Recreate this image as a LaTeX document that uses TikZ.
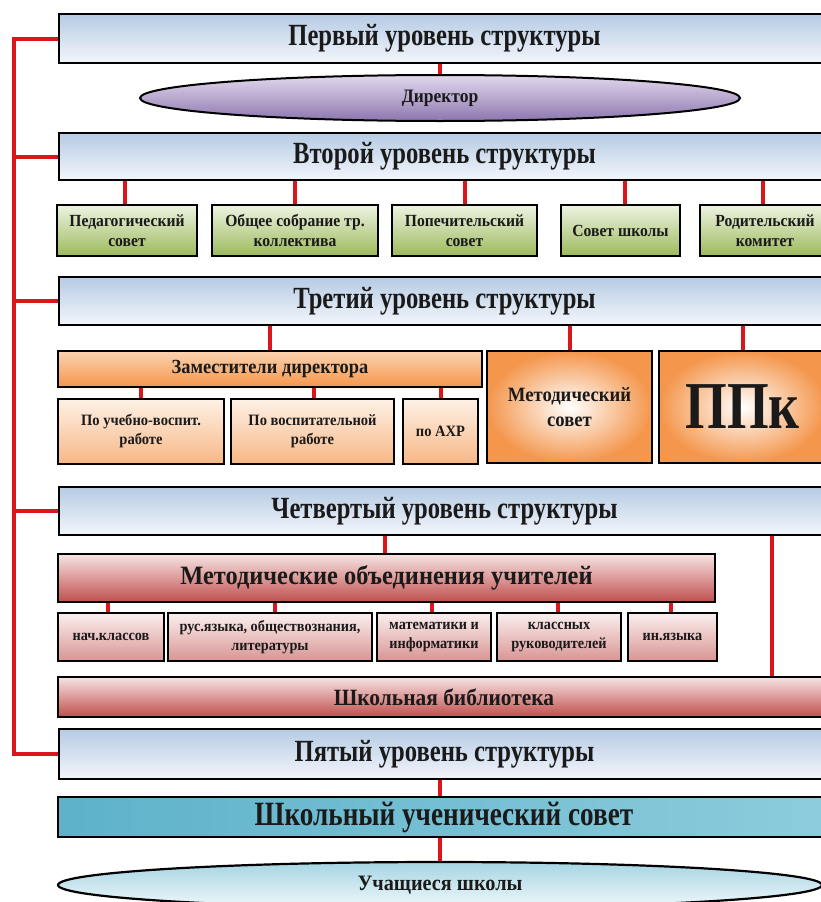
\documentclass[tikz,border=0pt]{standalone}
\usepackage{fontspec}
\setmainfont{Liberation Serif}[FakeStretch=0.8]
\newfontfamily\widerf{Liberation Serif}[FakeStretch=0.92]
\usetikzlibrary{shapes.geometric}
\definecolor{lvltop}{HTML}{B6CBE4}
\definecolor{lvlbot}{HTML}{F3F6FB}
\definecolor{dirtop}{HTML}{E2D9EE}
\definecolor{dirbot}{HTML}{8C76AE}
\definecolor{grtop}{HTML}{EEF3E2}
\definecolor{grbot}{HTML}{9CBA5C}
\definecolor{ortop}{HTML}{FBD3B0}
\definecolor{orbot}{HTML}{F4964C}
\definecolor{orlt}{HTML}{FEF1E6}
\definecolor{orlb}{HTML}{F7B785}
\definecolor{rdtop}{HTML}{F7E4E4}
\definecolor{rdbot}{HTML}{BF4F4C}
\definecolor{rdlt}{HTML}{FBEFEF}
\definecolor{rdlb}{HTML}{D89593}
\definecolor{tealL}{HTML}{5DB2CA}
\definecolor{tealR}{HTML}{8DCCDC}
\definecolor{sttop}{HTML}{A6D5E3}
\definecolor{stbot}{HTML}{F0F8FB}
\definecolor{redc}{HTML}{D8161C}
\definecolor{ink}{HTML}{1A1A1A}
\tikzset{
  box/.style={draw=black, line width=2.5pt, inner sep=0pt, align=center, text=ink},
  fz/.style={font=\bfseries\fontsize{#1}{\fpeval{#1*1.2}}\selectfont},
  wz/.style={font=\widerf\bfseries\fontsize{#1}{\fpeval{#1*1.2}}\selectfont},
  lvl/.style={box, top color=lvltop, bottom color=lvlbot, minimum width=771, fz=30.8},
  grn/.style={box, top color=grtop, bottom color=grbot, minimum height=51, wz=17},
  ors/.style={box, top color=orlt, bottom color=orlb, minimum height=65, wz=15.8},
  orr/.style={box, shading=radial, inner color=white, outer color=orbot, minimum width=165, minimum height=112},
  rds/.style={box, top color=rdlt, bottom color=rdlb, minimum height=48, wz=15.5},
  rl/.style={draw=redc, line width=4pt},
}
\begin{document}
\begin{tikzpicture}[x=1pt,y=-1pt]
\useasboundingbox (0,0) rectangle (821,902);
\clip (0,0) rectangle (821,902);
\fill[white] (0,0) rectangle (821,902);
% levels
\node[lvl, minimum height=49] (l1) at (444.5,38.5) {Первый уровень структуры};
\node[lvl, minimum height=47] (l2) at (444.5,156.5) {Второй уровень структуры};
\node[lvl, minimum height=48] (l3) at (444.5,301) {Третий уровень структуры};
\node[lvl, minimum height=48] (l4) at (444.5,511) {Четвертый уровень структуры};
\node[lvl, minimum height=50] (l5) at (444.5,754) {Пятый уровень структуры};
% director
\node[box, ellipse, line width=2pt, top color=dirtop, bottom color=dirbot, minimum width=600, minimum height=46, wz=19] (dir) at (440,98) {Директор};
% level 2 children
\node[grn, minimum width=140] (g1) at (127,230.5) {Педагогический\\совет};
\node[grn, minimum width=166] (g2) at (295,230.5) {Общее собрание тр.\\коллектива};
\node[grn, minimum width=145] (g3) at (464.5,230.5) {Попечительский\\совет};
\node[grn, minimum width=119] (g4) at (620.5,230.5) {Совет школы};
\node[grn, minimum width=130] (g5) at (765,230.5) {Родительский\\комитет};
% level 3 children
\node[box, top color=ortop, bottom color=orbot, minimum width=424, minimum height=36, wz=20] (zam) at (270,369) {Заместители директора};
\node[ors, minimum width=166] (s1) at (141,431.5) {По учебно-воспит.\\работе};
\node[ors, minimum width=163] (s2) at (312.5,431.5) {По воспитательной\\работе};
\node[ors, minimum width=75] (s3) at (440.5,431.5) {по АХР};
\node[orr, wz=20.3] (met) at (569.5,407) {Методический\\совет};
\node[orr, minimum width=167, fz=67] (ppk) at (742.5,407) {ППк};
% level 4 children
\node[box, top color=rdtop, bottom color=rdbot, minimum width=657, minimum height=48, wz=26.5] (mo) at (386.5,578) {Методические объединения учителей};
\node[rds, minimum width=106] (m1) at (111,637) {нач.классов};
\node[rds, minimum width=204] (m2) at (270,637) {рус.языка, обществознания,\\литературы};
\node[rds, minimum width=114] (m3) at (434,637) {математики и\\информатики};
\node[rds, minimum width=124] (m4) at (559,637) {классных\\руководителей};
\node[rds, minimum width=89] (m5) at (672.5,637) {ин.языка};
\node[box, top color=rdtop, bottom color=rdbot, minimum width=772, minimum height=40, wz=23.3] (lib) at (444,697) {Школьная библиотека};
% level 5 children
\node[box, line width=2pt, left color=tealL, right color=tealR, minimum width=772, minimum height=40, fz=34] (usc) at (444,817) {Школьный ученический совет};
\node[box, ellipse, line width=2.2pt, top color=sttop, bottom color=stbot, minimum width=764, minimum height=46, wz=22] (st) at (440,885) {Учащиеся школы};
% left spine
\coordinate (sp) at (14,0);
\draw[rl] (l1.west) -- (l1.west -| sp) -- (l5.west -| sp) -- (l5.west);
\draw[rl] (l2.west) -- (l2.west -| sp);
\draw[rl] (l3.west) -- (l3.west -| sp);
\draw[rl] (l4.west) -- (l4.west -| sp);
% vertical connectors
\draw[rl] (dir.north |- l1.south) -- (dir.north);
\foreach \n/\x in {g1/125,g2/295,g3/465,g4/625,g5/763}{
  \draw[rl] (\x,0 |- l2.south) -- (\x,0 |- \n.north);
}
\draw[rl] (zam.north |- l3.south) -- (zam.north);
\draw[rl] (met.north |- l3.south) -- (met.north);
\draw[rl] (ppk.north |- l3.south) -- (ppk.north);
\draw[rl] (s1.north |- zam.south) -- (s1.north);
\draw[rl] (314,0 |- zam.south) -- (314,0 |- s2.north);
\draw[rl] (s3.north |- zam.south) -- (s3.north);
\draw[rl] (385,0 |- l4.south) -- (385,0 |- mo.north);
\foreach \n/\x in {m1/108,m2/275,m3/432,m4/558,m5/671}{
  \draw[rl] (\x,0 |- mo.south) -- (\x,0 |- \n.north);
}
\draw[rl] (772,0 |- l4.south) -- (772,0 |- lib.north);
\draw[rl] (440,0 |- l5.south) -- (440,0 |- usc.north);
\draw[rl] (st.north |- usc.south) -- (st.north);
\end{tikzpicture}
\end{document}
